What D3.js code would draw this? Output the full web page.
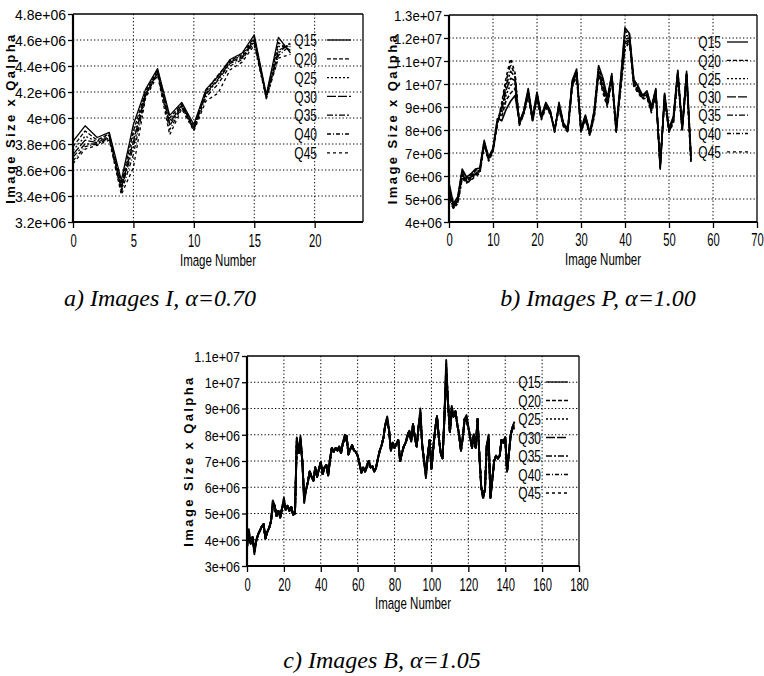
<!DOCTYPE html>
<html><head><meta charset="utf-8">
<script src="https://cdn.jsdelivr.net/npm/d3@7"></script>
<style>body{margin:0;background:#fff}svg{display:block}</style>
</head><body>
<svg id="fig" width="764" height="676"></svg>
<script>
// Quality settings shown in every panel, and their line dash patterns
const seriesNames = ["Q15", "Q20", "Q25", "Q30", "Q35", "Q40", "Q45"];
const seriesDash = [null, "4,2", "2,2", "9,2", "6,2,2,2", "4,2,1,2", "3,3"];

// Tick values (image size x Qalpha in millions, image number)
const yTicksI = [3.2, 3.4, 3.6, 3.8, 4.0, 4.2, 4.4, 4.6, 4.8];
const xTicksI = [0, 5, 10, 15, 20];
const yTicksP = [4, 5, 6, 7, 8, 9, 10, 11, 12, 13];
const xTicksP = [0, 10, 20, 30, 40, 50, 60, 70];
const yTicksB = [3, 4, 5, 6, 7, 8, 9, 10, 11];
const xTicksB = [0, 20, 40, 60, 80, 100, 120, 140, 160, 180];

// a) Images I, alpha = 0.70  (values in millions, images 0..18)
const I_Q15 = [3.82,3.94,3.85,3.89,3.52,3.95,4.22,4.38,4.02,4.12,3.95,4.22,4.32,4.45,4.50,4.64,4.18,4.62,4.50];
const I_Q20 = [3.78,3.90,3.83,3.88,3.49,3.90,4.20,4.37,4.00,4.11,3.93,4.21,4.33,4.44,4.49,4.62,4.17,4.58,4.52];
const I_Q25 = [3.75,3.86,3.82,3.87,3.47,3.86,4.19,4.36,3.98,4.10,3.93,4.20,4.32,4.44,4.48,4.61,4.17,4.55,4.55];
const I_Q30 = [3.72,3.83,3.81,3.86,3.46,3.82,4.18,4.35,3.96,4.10,3.92,4.19,4.30,4.43,4.47,4.60,4.16,4.52,4.57];
const I_Q35 = [3.70,3.80,3.80,3.85,3.45,3.78,4.17,4.35,3.94,4.09,3.92,4.18,4.29,4.42,4.46,4.59,4.16,4.50,4.58];
const I_Q40 = [3.67,3.78,3.80,3.84,3.43,3.72,4.17,4.34,3.91,4.08,3.91,4.16,4.26,4.40,4.45,4.58,4.15,4.48,4.56];
const I_Q45 = [3.65,3.76,3.79,3.83,3.41,3.62,4.15,4.33,3.87,4.07,3.90,4.13,4.19,4.37,4.43,4.56,4.15,4.46,4.49];

// b) Images P, alpha = 1.00  (images 0..55)
const P_Q15 = [5.7,4.8,5.1,6.3,5.95,6.1,6.3,6.35,7.55,6.8, 7.2,8.5,8.4,8.9,9.25,9.5,8.35,8.85,9.8,8.55, 9.65,8.6,9.2,8.85,7.9,9.2,8.3,8.05,10.15,10.65, 8.05,8.65,7.9,8.85,10.8,10.25,9.4,10.45,8.05,10.2, 12.45,12.2,10.2,9.9,9.5,9.7,9.0,9.8,6.3,9.6, 8.05,8.6,10.6,8.1,10.55,6.9];
const P_Q20 = [5.55,4.75,5.05,6.2,5.9,6.05,6.25,6.3,7.5,6.8, 7.2,8.45,8.6,9.3,9.6,9.8,8.35,8.8,9.75,8.5, 9.6,8.6,9.15,8.85,7.95,9.15,8.3,8.05,10.1,10.6, 8.05,8.6,7.9,8.8,10.7,10.1,9.35,10.4,8.05,10.1, 12.3,12.15,10.15,9.85,9.5,9.65,9.0,9.75,6.35,9.55, 8.05,8.55,10.55,8.1,10.5,6.85];
const P_Q25 = [5.4,4.7,5.0,6.1,5.85,6.0,6.2,6.25,7.45,6.75, 7.15,8.4,8.75,9.55,9.95,10.0,8.3,8.8,9.7,8.5, 9.55,8.55,9.15,8.8,7.95,9.1,8.25,8.0,10.05,10.55, 8.0,8.6,7.85,8.75,10.6,10.0,9.3,10.35,8.0,10.0, 12.1,12.1,10.1,9.8,9.45,9.6,8.95,9.7,6.4,9.5, 8.0,8.5,10.5,8.05,10.45,6.8];
const P_Q30 = [5.25,4.7,4.95,6.05,5.8,5.95,6.15,6.2,7.45,6.75, 7.15,8.35,8.9,9.75,10.25,10.15,8.3,8.75,9.65,8.45, 9.5,8.55,9.1,8.8,8.0,9.05,8.25,8.0,10.0,10.5, 8.0,8.55,7.85,8.7,10.55,9.9,9.2,10.3,8.0,9.95, 11.95,12.0,10.05,9.75,9.45,9.55,8.9,9.65,6.45,9.45, 8.0,8.45,10.45,8.05,10.4,6.7];
const P_Q35 = [5.15,4.65,4.9,6.0,5.75,5.9,6.1,6.2,7.4,6.7, 7.1,8.3,9.0,9.95,10.55,10.3,8.25,8.75,9.6,8.4, 9.45,8.5,9.05,8.75,8.0,9.0,8.2,7.95,9.95,10.45, 7.95,8.5,7.8,8.65,10.5,9.8,9.15,10.25,7.95,9.9, 11.8,11.95,10.0,9.7,9.4,9.5,8.85,9.6,6.5,9.4, 7.95,8.4,10.4,8.0,10.35,6.65];
const P_Q40 = [5.05,4.6,4.85,5.95,5.7,5.85,6.05,6.15,7.4,6.7, 7.1,8.3,9.1,10.15,10.85,10.4,8.25,8.7,9.55,8.4, 9.4,8.5,9.0,8.75,8.05,8.95,8.2,7.95,9.9,10.4, 7.95,8.5,7.8,8.6,10.45,9.7,9.05,10.2,7.95,9.8, 11.65,11.9,9.95,9.65,9.4,9.45,8.8,9.55,6.55,9.35, 7.95,8.35,10.35,8.0,10.3,6.6];
const P_Q45 = [4.95,4.6,4.8,5.9,5.7,5.8,6.0,6.1,7.35,6.65, 7.05,8.25,9.2,10.3,11.1,10.5,8.2,8.7,9.5,8.35, 9.35,8.45,8.95,8.7,8.05,8.9,8.15,7.9,9.85,10.35, 7.9,8.45,7.75,8.55,10.4,9.6,9.0,10.15,7.9,9.7, 11.5,11.85,9.9,9.6,9.35,9.4,8.75,9.5,6.6,9.3, 7.9,8.3,10.3,7.95,10.25,6.5];

// c) Images B, alpha = 1.05  (images 0..145)
const B_Q15 = [3.9,4.4,3.85,4.1,3.45,3.95,4.2,4.35,4.5,4.6, 4.05,4.3,4.45,4.7,5.5,5.3,4.9,5.1,4.85,5.2, 5.6,5.15,5.3,5.1,5.25,4.95,5.0,7.9,7.3,7.95, 7.0,5.4,5.9,6.2,6.6,6.4,6.25,6.75,6.4,6.7, 6.95,6.5,6.75,6.85,6.45,7.1,7.5,7.35,7.5,7.4, 7.55,7.3,7.7,8.0,7.95,7.25,7.45,7.6,7.4,7.35, 7.2,6.9,6.55,6.75,6.6,6.85,7.0,6.75,6.8,6.6, 6.75,7.1,7.4,7.6,7.9,8.4,8.7,8.2,7.4,7.7, 7.5,7.65,7.8,7.0,7.3,7.55,7.7,8.0,8.15,7.75, 8.4,7.9,7.55,8.3,9.0,7.6,7.0,6.35,7.2,7.8, 6.7,7.5,8.2,8.7,7.9,7.3,7.1,8.6,10.85,9.2, 8.1,9.1,8.7,8.9,8.4,8.0,7.4,7.9,8.6,8.75, 8.3,7.9,7.5,8.0,7.5,8.6,7.2,6.0,5.6,5.9, 7.6,8.0,5.6,6.3,7.0,7.2,7.1,7.2,7.8,7.7, 7.9,6.6,7.3,8.0,8.3,8.5];
const B_Q20 = [3.85,4.3,3.85,4.1,3.5,3.95,4.2,4.35,4.5,4.6, 4.05,4.3,4.45,4.7,5.45,5.3,4.9,5.1,4.85,5.2, 5.55,5.15,5.3,5.1,5.25,4.95,5.0,7.85,7.3,7.9, 7.0,5.45,5.9,6.2,6.6,6.4,6.25,6.75,6.4,6.7, 6.95,6.5,6.75,6.85,6.45,7.1,7.5,7.35,7.5,7.4, 7.55,7.3,7.7,7.95,7.95,7.25,7.45,7.6,7.4,7.35, 7.2,6.9,6.55,6.75,6.6,6.85,7.0,6.75,6.8,6.6, 6.75,7.1,7.4,7.6,7.9,8.4,8.65,8.2,7.4,7.7, 7.5,7.65,7.8,7.0,7.3,7.55,7.7,8.0,8.15,7.75, 8.4,7.9,7.55,8.3,8.9,7.6,7.0,6.4,7.2,7.8, 6.7,7.5,8.2,8.7,7.9,7.3,7.1,8.6,10.7,9.2, 8.1,9.05,8.7,8.9,8.4,8.0,7.4,7.9,8.6,8.7, 8.3,7.9,7.5,8.0,7.5,8.6,7.2,6.0,5.55,5.9, 7.6,7.95,5.6,6.3,7.0,7.2,7.1,7.2,7.8,7.7, 7.9,6.6,7.3,8.0,8.3,8.45];
const B_Q25 = [3.8,4.25,3.85,4.1,3.55,3.95,4.2,4.35,4.5,4.6, 4.05,4.3,4.45,4.7,5.4,5.3,4.9,5.1,4.85,5.2, 5.5,5.15,5.3,5.1,5.25,4.95,5.0,7.8,7.3,7.85, 7.0,5.5,5.9,6.2,6.6,6.4,6.25,6.75,6.4,6.7, 6.95,6.5,6.75,6.85,6.45,7.05,7.5,7.35,7.5,7.4, 7.55,7.3,7.7,7.9,7.95,7.25,7.45,7.6,7.4,7.35, 7.2,6.9,6.55,6.75,6.6,6.8,7.0,6.75,6.8,6.6, 6.75,7.1,7.4,7.6,7.9,8.4,8.6,8.2,7.4,7.7, 7.5,7.65,7.8,7.0,7.3,7.55,7.7,7.95,8.15,7.75, 8.4,7.9,7.55,8.3,8.85,7.6,7.0,6.45,7.2,7.8, 6.7,7.5,8.2,8.7,7.9,7.3,7.1,8.6,10.55,9.2, 8.1,9.0,8.7,8.9,8.4,8.0,7.4,7.9,8.6,8.65, 8.3,7.9,7.5,8.0,7.5,8.6,7.2,6.0,5.6,5.9, 7.6,7.9,5.6,6.3,7.0,7.2,7.1,7.2,7.8,7.7, 7.9,6.6,7.3,8.0,8.3,8.4];
const B_Q30 = [3.78,4.2,3.85,4.1,3.58,3.95,4.2,4.35,4.5,4.6, 4.05,4.3,4.45,4.7,5.35,5.3,4.9,5.1,4.85,5.2, 5.45,5.15,5.3,5.1,5.25,4.95,5.0,7.75,7.3,7.8, 7.0,5.55,5.9,6.2,6.6,6.4,6.25,6.75,6.4,6.7, 6.95,6.5,6.75,6.85,6.45,7.05,7.5,7.35,7.5,7.4, 7.55,7.3,7.7,7.85,7.95,7.25,7.45,7.6,7.4,7.35, 7.2,6.9,6.55,6.75,6.6,6.8,7.0,6.75,6.8,6.6, 6.75,7.1,7.4,7.6,7.9,8.4,8.55,8.2,7.4,7.7, 7.5,7.65,7.8,7.0,7.3,7.55,7.7,7.95,8.15,7.75, 8.4,7.9,7.55,8.3,8.8,7.6,7.0,6.5,7.2,7.8, 6.7,7.5,8.2,8.7,7.9,7.3,7.1,8.6,10.4,9.2, 8.1,8.95,8.7,8.9,8.4,8.0,7.4,7.9,8.6,8.6, 8.3,7.9,7.5,8.0,7.5,8.6,7.2,6.0,5.65,5.9, 7.6,7.85,5.6,6.3,7.0,7.2,7.1,7.2,7.8,7.7, 7.9,6.6,7.3,8.0,8.3,8.35];
const B_Q35 = [3.75,4.15,3.85,4.1,3.6,3.95,4.2,4.35,4.5,4.6, 4.05,4.3,4.45,4.7,5.3,5.3,4.9,5.1,4.85,5.2, 5.4,5.15,5.3,5.1,5.25,4.95,5.0,7.7,7.3,7.75, 7.0,5.6,5.9,6.2,6.6,6.4,6.25,6.75,6.4,6.7, 6.95,6.5,6.75,6.85,6.45,7.0,7.5,7.35,7.5,7.4, 7.55,7.3,7.7,7.8,7.95,7.25,7.45,7.6,7.4,7.35, 7.2,6.9,6.55,6.75,6.6,6.75,7.0,6.75,6.8,6.6, 6.75,7.1,7.4,7.6,7.9,8.4,8.5,8.2,7.4,7.7, 7.5,7.65,7.8,7.0,7.3,7.55,7.7,7.9,8.15,7.75, 8.4,7.9,7.55,8.3,8.75,7.6,7.0,6.55,7.2,7.8, 6.7,7.5,8.2,8.7,7.9,7.3,7.1,8.6,10.3,9.2, 8.1,8.9,8.7,8.9,8.4,8.0,7.4,7.9,8.6,8.55, 8.3,7.9,7.5,8.0,7.5,8.6,7.2,6.0,5.7,5.9, 7.6,7.8,5.6,6.3,7.0,7.2,7.1,7.2,7.8,7.7, 7.9,6.6,7.3,8.0,8.3,8.3];
const B_Q40 = [3.72,4.1,3.85,4.1,3.62,3.95,4.2,4.35,4.5,4.6, 4.05,4.3,4.45,4.7,5.25,5.3,4.9,5.1,4.85,5.2, 5.35,5.15,5.3,5.1,5.25,4.95,5.0,7.65,7.3,7.7, 7.0,5.65,5.9,6.2,6.6,6.4,6.25,6.75,6.4,6.7, 6.95,6.5,6.75,6.85,6.45,7.0,7.5,7.35,7.5,7.4, 7.55,7.3,7.7,7.75,7.95,7.25,7.45,7.6,7.4,7.35, 7.2,6.9,6.55,6.75,6.6,6.75,7.0,6.75,6.8,6.6, 6.75,7.1,7.4,7.6,7.9,8.4,8.45,8.2,7.4,7.7, 7.5,7.65,7.8,7.0,7.3,7.55,7.7,7.9,8.15,7.75, 8.4,7.9,7.55,8.3,8.7,7.6,7.0,6.6,7.2,7.8, 6.7,7.5,8.2,8.7,7.9,7.3,7.1,8.6,10.2,9.2, 8.1,8.85,8.7,8.9,8.4,8.0,7.4,7.9,8.6,8.5, 8.3,7.9,7.5,8.0,7.5,8.6,7.2,6.0,5.75,5.9, 7.6,7.75,5.6,6.3,7.0,7.2,7.1,7.2,7.8,7.7, 7.9,6.6,7.3,8.0,8.3,8.25];
const B_Q45 = [3.7,4.05,3.85,4.1,3.65,3.95,4.2,4.35,4.5,4.6, 4.05,4.3,4.45,4.7,5.2,5.3,4.9,5.1,4.85,5.2, 5.3,5.15,5.3,5.1,5.25,4.95,5.0,7.6,7.3,7.65, 7.0,5.7,5.9,6.2,6.6,6.4,6.25,6.75,6.4,6.7, 6.95,6.5,6.75,6.85,6.45,6.95,7.5,7.35,7.5,7.4, 7.55,7.3,7.7,7.7,7.95,7.25,7.45,7.6,7.4,7.35, 7.2,6.9,6.55,6.75,6.6,6.7,7.0,6.75,6.8,6.6, 6.75,7.1,7.4,7.6,7.9,8.4,8.4,8.2,7.4,7.7, 7.5,7.65,7.8,7.0,7.3,7.55,7.7,7.85,8.15,7.75, 8.4,7.9,7.55,8.3,8.65,7.6,7.0,6.65,7.2,7.8, 6.7,7.5,8.2,8.7,7.9,7.3,7.1,8.6,10.1,9.2, 8.1,8.8,8.7,8.9,8.4,8.0,7.4,7.9,8.6,8.45, 8.3,7.9,7.5,8.0,7.5,8.6,7.2,6.0,5.8,5.9, 7.6,7.7,5.6,6.3,7.0,7.2,7.1,7.2,7.8,7.7, 7.9,6.6,7.3,8.0,8.3,8.2];

const captions = ["a) Images I, \u03b1=0.70", "b) Images P, \u03b1=1.00", "c) Images B, \u03b1=1.05"];

// Panel geometry
const panels = [
  { series: [I_Q15, I_Q20, I_Q25, I_Q30, I_Q35, I_Q40, I_Q45],
    left: 73, right: 363, top: 14, bottom: 222, xDomain: [0, 24], yDomain: [3.2, 4.8],
    xTicks: xTicksI, yTicks: yTicksI, ySx: 1.0, lineW: 1.3,
    legend: { textRight: 317, x0: 327, x1: 351, y0: 40, dy: 18.8 },
    yTitleX: 10, xTickY: 241, xTitleY: 260,
    caption: { text: captions[0], x: 160, y: 297 } },
  { series: [P_Q15, P_Q20, P_Q25, P_Q30, P_Q35, P_Q40, P_Q45],
    left: 449, right: 757, top: 15, bottom: 222, xDomain: [0, 70], yDomain: [4, 13],
    xTicks: xTicksP, yTicks: yTicksP, ySx: 0.94, lineW: 1.6,
    legend: { textRight: 721, x0: 727, x1: 748, y0: 42, dy: 18.3 },
    yTitleX: 392, xTickY: 240, xTitleY: 259,
    caption: { text: captions[1], x: 598, y: 297 } },
  { series: [B_Q15, B_Q20, B_Q25, B_Q30, B_Q35, B_Q40, B_Q45],
    left: 247, right: 579, top: 356, bottom: 566, xDomain: [0, 180], yDomain: [3, 11],
    xTicks: xTicksB, yTicks: yTicksB, ySx: 0.9, lineW: 1.9,
    legend: { textRight: 541, x0: 546, x1: 568, y0: 382, dy: 18.5 },
    yTitleX: 188, xTickY: 585, xTitleY: 603,
    caption: { text: captions[2], x: 382, y: 659 } }
];

const SANS = "'Liberation Sans', Arial, Helvetica, sans-serif";
const SERIF = "'Liberation Serif', 'Times New Roman', serif";

function sci(v) {
  const n = Math.round(v * 1e6);
  const e = Math.floor(Math.log10(n));
  const m = Math.round(n / Math.pow(10, e) * 100) / 100;
  return m + "e+" + String(e).padStart(2, "0");
}

const svg = d3.select("#fig");

// text with independent horizontal / vertical scaling
function label(parent, txt, x, y, o) {
  const t = parent.append("text")
    .attr("transform", `translate(${x},${y})` + (o.rotate ? ` rotate(${o.rotate})` : "") + ` scale(${o.sx || 1},${o.sy || 1})`)
    .attr("dy", "0.36em")
    .attr("text-anchor", o.anchor || "middle")
    .attr("font-family", o.family || SANS)
    .attr("font-size", o.size)
    .attr("fill", "#000")
    .text(txt);
  if (o.weight) t.attr("font-weight", o.weight);
  if (o.style) t.attr("font-style", o.style);
  if (o.spacing) t.attr("letter-spacing", o.spacing);
  return t;
}

panels.forEach((p, pi) => {
  const g = svg.append("g");
  const x = d3.scaleLinear().domain(p.xDomain).range([p.left, p.right]);
  const y = d3.scaleLinear().domain(p.yDomain).range([p.bottom, p.top]);

  // dotted grid
  const grid = g.append("g").attr("stroke", "#000").attr("stroke-width", 1).attr("stroke-dasharray", "1.3,2.2");
  grid.selectAll("line.h").data(p.yTicks.filter(v => v > p.yDomain[0] && v < p.yDomain[1]))
    .join("line").attr("x1", p.left).attr("x2", p.right).attr("y1", d => y(d)).attr("y2", d => y(d));
  grid.selectAll("line.v").data(p.xTicks.filter(v => v > p.xDomain[0] && v < p.xDomain[1]))
    .join("line").attr("y1", p.top).attr("y2", p.bottom).attr("x1", d => x(d)).attr("x2", d => x(d));

  // axes (ticks and labels)
  const ay = g.append("g").attr("transform", `translate(${p.left},0)`)
    .call(d3.axisLeft(y).tickValues(p.yTicks).tickFormat(sci).tickSize(5).tickSizeOuter(0));
  ay.select(".domain").remove();
  ay.selectAll("line").attr("stroke", "#000").attr("stroke-width", 1.3);
  ay.selectAll("text").attr("x", null).attr("dy", "0.36em")
    .attr("transform", `translate(-7,0) scale(${p.ySx},1.08)`)
    .attr("font-family", SANS).attr("font-size", 14).attr("fill", "#000");

  const ax = g.append("g").attr("transform", `translate(0,${p.bottom})`)
    .call(d3.axisBottom(x).tickValues(p.xTicks).tickSize(6).tickSizeOuter(0));
  ax.select(".domain").remove();
  ax.selectAll("line").attr("stroke", "#000").attr("stroke-width", 1.3);
  ax.selectAll("text").attr("y", null).attr("dy", "0.36em")
    .attr("transform", `translate(0,${p.xTickY - p.bottom}) scale(0.7,1.12)`)
    .attr("font-family", SANS).attr("font-size", 16).attr("fill", "#000");

  // data lines
  const clipId = "clip" + pi;
  g.append("clipPath").attr("id", clipId).append("rect")
    .attr("x", p.left).attr("y", p.top).attr("width", p.right - p.left).attr("height", p.bottom - p.top);
  const line = d3.line().x((d, i) => x(i)).y(d => y(d));
  const lines = g.append("g").attr("clip-path", `url(#${clipId})`);
  p.series.forEach((s, si) => {
    lines.append("path").datum(s).attr("d", line)
      .attr("fill", "none").attr("stroke", "#000").attr("stroke-width", p.lineW)
      .attr("stroke-linejoin", "round")
      .attr("stroke-dasharray", seriesDash[si]);
  });

  // frame
  g.append("line").attr("x1", p.left).attr("x2", p.right).attr("y1", p.top).attr("y2", p.top)
    .attr("stroke", "#000").attr("stroke-width", 1.3);
  g.append("line").attr("x1", p.right).attr("x2", p.right).attr("y1", p.top).attr("y2", p.bottom)
    .attr("stroke", "#000").attr("stroke-width", 1.3);
  g.append("line").attr("x1", p.left).attr("x2", p.left).attr("y1", p.top).attr("y2", p.bottom + 1)
    .attr("stroke", "#000").attr("stroke-width", 2.2);
  g.append("line").attr("x1", p.left - 1).attr("x2", p.right).attr("y1", p.bottom).attr("y2", p.bottom)
    .attr("stroke", "#000").attr("stroke-width", 2.2);

  // legend
  const lg = g.append("g");
  seriesNames.forEach((name, si) => {
    const yy = p.legend.y0 + si * p.legend.dy;
    label(lg, name, p.legend.textRight, yy, { size: 15, sx: 0.8, sy: 1.15, anchor: "end" });
    lg.append("line").attr("x1", p.legend.x0).attr("x2", p.legend.x1).attr("y1", yy).attr("y2", yy)
      .attr("stroke", "#000").attr("stroke-width", 1.3).attr("stroke-dasharray", seriesDash[si]);
  });

  // axis titles
  label(g, "Image Number", (p.left + p.right) / 2, p.xTitleY, { size: 16, sx: 0.72, sy: 1.05 });
  label(g, "Image Size x Qalpha", p.yTitleX, (p.top + p.bottom) / 2,
    { size: 13, weight: "bold", spacing: 2.4, rotate: -90 });

  // caption
  label(svg, p.caption.text, p.caption.x, p.caption.y, { size: 24, family: SERIF, style: "italic" });
});
</script>
</body></html>
